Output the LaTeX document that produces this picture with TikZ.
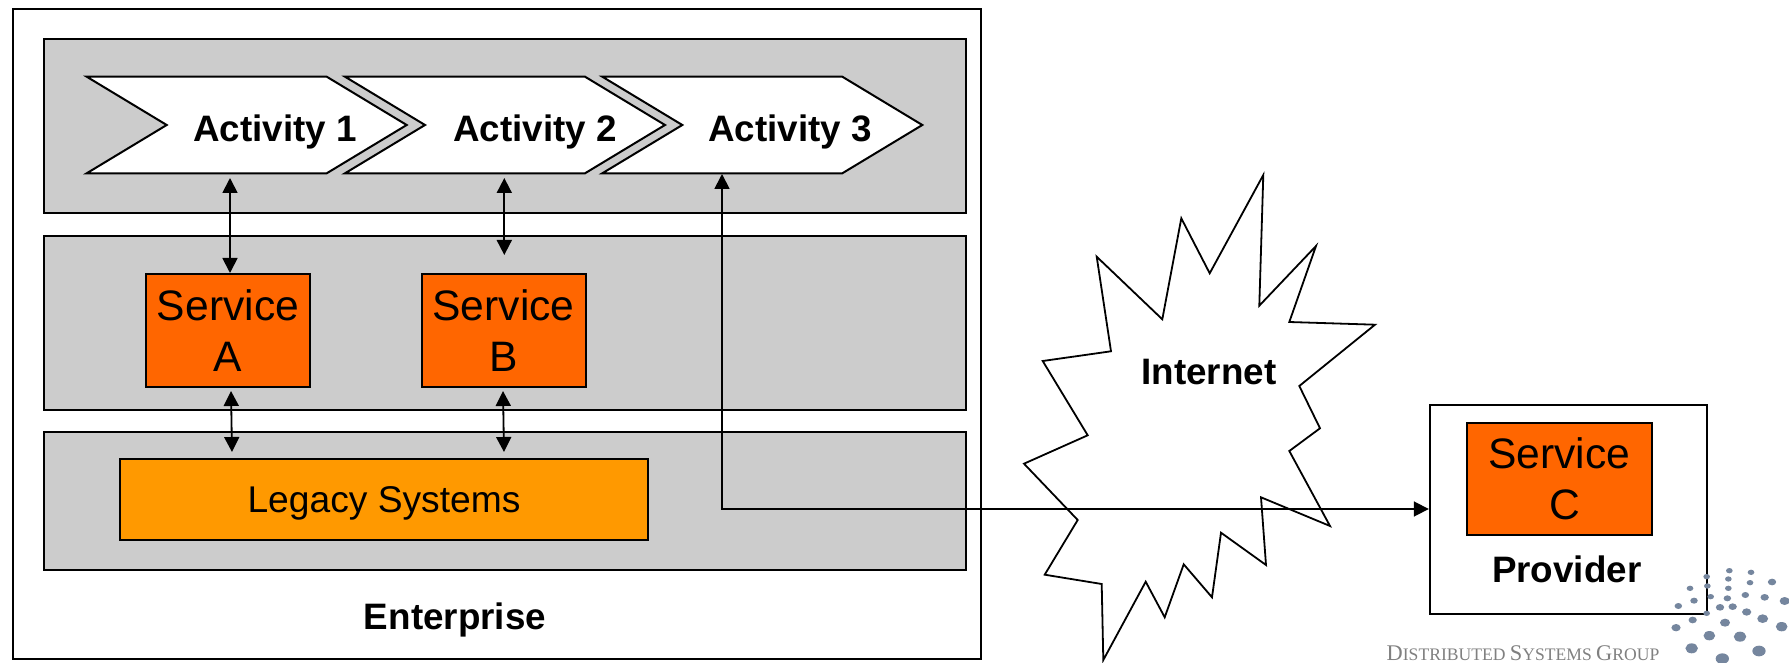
\documentclass[tikz,border=0pt]{standalone}
\usepackage{fontspec}
\setmainfont{Liberation Sans}
\newfontfamily\logofont{Liberation Serif}
\usetikzlibrary{arrows.meta}
\definecolor{bandgray}{HTML}{CCCCCC}
\definecolor{svcorange}{HTML}{FF6600}
\definecolor{legacyorange}{HTML}{FF9900}
\definecolor{logodot}{HTML}{75869E}
\tikzset{
  panel/.style={draw,line width=1pt,inner sep=0pt},
  band/.style={panel,fill=bandgray},
  service/.style={panel,fill=svcorange,align=center,font=\fontsize{21.3}{25.5}\selectfont,
    minimum width=82pt,minimum height=56pt},
  boldlabel/.style={font=\fontsize{18.4}{22}\selectfont\bfseries,inner sep=0pt},
  chevron/.style={draw,line width=1pt,fill=white,line join=miter},
  twoway/.style={line width=.9pt,{Triangle[length=7.5pt,width=7.5pt]}-{Triangle[length=7.5pt,width=7.5pt]}}
}
\begin{document}
\begin{tikzpicture}[x=.5pt,y=-.5pt]
    \useasboundingbox (0,0) rectangle (1789,663);
    \node[panel,minimum width=484pt,minimum height=325pt] (enterprise) at (497,334) {};
    \node[band,minimum width=461pt,minimum height=87pt] (bandtop) at (504.5,126) {};
    \node[band,minimum width=461pt,minimum height=87pt] (bandmid) at (504.5,322.8) {};
    \node[band,minimum width=461pt,minimum height=69pt] (bandlow) at (504.5,501.3) {};
    \foreach \x/\tx [count=\i] in {86.7/275,345/535,602.3/790} {
      \draw[chevron] (\x,76.7) -- ++(240,0) -- ++(80,48.3) -- ++(-80,48.3) -- ++(-240,0) -- ++(80,-48.3) -- cycle;
      \node[boldlabel] (activity\i) at (\tx,132) {Activity \i};
    }
    \node[service] (svca) at (228,330.5) {Service\\A};
    \node[service] (svcb) at (503.5,330.5) {Service\\B};
    \node[panel,fill=legacyorange,minimum width=264pt,minimum height=40.3pt,text height=13.2pt,text depth=0pt,font=\fontsize{18.6}{22}\selectfont] (legacy) at (384,499.3) {Legacy Systems};
    \node[boldlabel] (enterpriselabel) at (455,620) {Enterprise};
    % internet cloud
    \draw[line width=.9pt,fill=white,line join=miter] (1263.3,175) -- (1259.3,305.7) -- (1316,246) -- (1289.3,322) -- (1375,324.7) -- (1299.3,386) -- (1320,428.3) -- (1289.3,451) -- (1330,526) -- (1261,497.3) -- (1266,565) -- (1221,532.7) -- (1212,597.3) -- (1183.7,564.3) -- (1164.7,617.3) -- (1145.7,581.7) -- (1103.3,660) -- (1101.7,584) -- (1044.7,574.7) -- (1077.7,520) -- (1024,463.7) -- (1087.7,435.3) -- (1042.7,361) -- (1111,351.3) -- (1096.7,256.7) -- (1162.3,319.3) -- (1181.3,218.3) -- (1209.7,273.3) -- cycle;
    \node[boldlabel] (internet) at (1209,372) {Internet};
    % provider
    \node[panel,fill=white,minimum width=138.5pt,minimum height=104.5pt] (provider) at (1568.3,509.3) {};
    \node[service,minimum width=92.5pt,minimum height=56.3pt] (svcc) at (1559.3,479) {Service\\\hspace*{5.7pt}C};
    \node[boldlabel] (providerlabel) at (1566.7,569) {Provider};
    % connectors
    \coordinate (acta) at (230,178);
    \coordinate (actb) at (504.3,178);
    \coordinate (actc) at (722,174);
    \coordinate (svcbtop) at (504.3,255);
    \coordinate (svcatop) at (230,273);
    \coordinate (svcalow) at (231,391);
    \coordinate (svcblow) at (503,391);
    \coordinate (legacya) at (232,452);
    \coordinate (legacyb) at (504,452);
    \coordinate (turn) at (722,509);
    \draw[twoway] (acta) -- (svcatop);
    \draw[twoway] (actb) -- (svcbtop);
    \draw[twoway] (svcalow) -- (legacya);
    \draw[twoway] (svcblow) -- (legacyb);
    \draw[twoway] (actc) -- (turn) -- (provider.west |- turn);
    % logo
    \foreach \x/\y/\r in {920/170/4,988/152/4,1053/157/4,985/177/4,1050/188/4,1116/186/5,870/205/4,922/198/4,985/205/4,1036/225/4.5,1094/232/5,1154/243/6,882/242/4.5,932/230/4,982/235/4.5,835/258/4.5,960/262/5,998/260/5,1040/276/5.5,1088/296/6.5,1145/320/7,878/300/5,920/280/4,975/308/6,828/323/5.5,928/347/7,1020/350/7.5,875/385/7.5,1077/393/8,967/416/8}
      \fill[logodot] (1400+\x/3,520+\y/3) ellipse[x radius=\r/1.2,y radius=\r/1.5];
    \node[font=\logofont\fontsize{11.2}{12}\selectfont,text=gray,inner sep=0pt,anchor=base] (logotext) at (1523,660.5) {D\fontsize{8.8}{12}\selectfont ISTRIBUTED \fontsize{11.2}{12}\selectfont S\fontsize{8.8}{12}\selectfont YSTEMS \fontsize{11.2}{12}\selectfont G\fontsize{8.8}{12}\selectfont ROUP};
\end{tikzpicture}
\end{document}
